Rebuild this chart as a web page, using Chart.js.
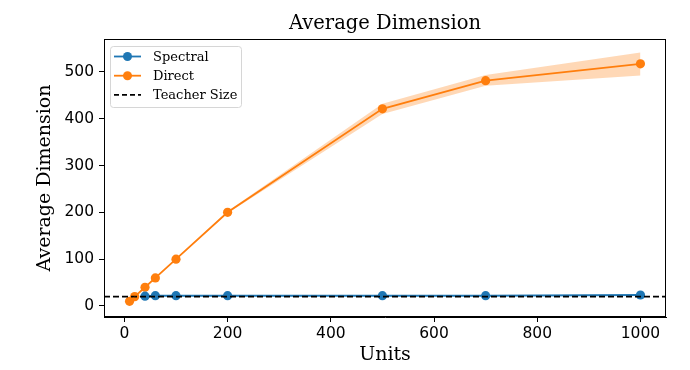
<!DOCTYPE html>
<html>
<head>
<meta charset="utf-8">
<script src="https://cdn.jsdelivr.net/npm/chart.js@4/dist/chart.umd.min.js"></script>
<style>
  html, body { margin: 0; padding: 0; background: #fff; }
  #wrap { width: 690px; height: 370px; }
</style>
</head>
<body>
<div id="wrap"><canvas id="chart" width="690" height="370"></canvas></div>
<script>
// data
const directUnits = [10, 20, 40, 60, 100, 200, 500, 700, 1000];
const directMean = [10, 20, 40, 60, 100, 200, 421, 481, 517];
const directUpper = [11, 21, 41, 61, 101, 202, 432, 493, 541];
const directLower = [9, 19, 39, 59, 99, 198, 410, 470, 492];

const spectralUnits = [40, 60, 100, 200, 500, 700, 1000];
const spectralMean = [21, 22, 22, 22, 22, 22, 23.5];

const teacherSize = 20;

const xRange = [-39.5, 1049.5];
const yRange = [-23.5, 570];
const xTicks = [0, 200, 400, 600, 800, 1000];
const yTicks = [0, 100, 200, 300, 400, 500];

const BLUE = "#1f77b4";
const ORANGE = "#ff7f0e";
const SERIF = "'DejaVu Serif', serif";
const SANS = "'DejaVu Sans', sans-serif";

const pts = (xs, ys) => xs.map((x, i) => ({ x: x, y: ys[i] }));

// frame around the plot + legend in the upper left corner
const framePlugin = {
  id: "frame",
  afterDraw(chart) {
    const ctx = chart.ctx;
    const a = chart.chartArea;
    ctx.save();
    ctx.strokeStyle = "#000";
    ctx.lineWidth = 1;
    ctx.strokeRect(a.left + 0.5, a.top + 0.5, a.right - a.left - 1, a.bottom - a.top - 1);

    // legend
    const bx = a.left + 6, by = a.top + 7, bw = 131, bh = 61;
    ctx.fillStyle = "rgba(255,255,255,0.8)";
    ctx.strokeStyle = "#d6d6d6";
    ctx.beginPath();
    ctx.roundRect(bx + 0.5, by + 0.5, bw, bh, 3);
    ctx.fill();
    ctx.stroke();

    const rows = [
      { label: "Spectral", color: BLUE, marker: true, dash: [] },
      { label: "Direct", color: ORANGE, marker: true, dash: [] },
      { label: "Teacher Size", color: "#000", marker: false, dash: [5, 3] }
    ];
    ctx.font = "13px " + SERIF;
    ctx.textBaseline = "middle";
    rows.forEach((r, i) => {
      const y = by + 10.5 + i * 19.2;
      ctx.strokeStyle = r.color;
      ctx.lineWidth = 1.8;
      ctx.setLineDash(r.dash);
      ctx.beginPath();
      ctx.moveTo(bx + 4, y);
      ctx.lineTo(bx + 31, y);
      ctx.stroke();
      ctx.setLineDash([]);
      if (r.marker) {
        ctx.fillStyle = r.color;
        ctx.beginPath();
        ctx.arc(bx + 17.5, y, 4.5, 0, Math.PI * 2);
        ctx.fill();
      }
      ctx.fillStyle = "#000";
      ctx.fillText(r.label, bx + 43, y + 1);
    });
    ctx.restore();
  }
};

new Chart(document.getElementById("chart"), {
  type: "line",
  data: {
    datasets: [
      {
        label: "Direct upper",
        data: pts(directUnits, directUpper),
        borderWidth: 0,
        pointRadius: 0,
        backgroundColor: "rgba(255,127,14,0.3)",
        fill: "+1"
      },
      {
        label: "Direct lower",
        data: pts(directUnits, directLower),
        borderWidth: 0,
        pointRadius: 0,
        fill: false
      },
      {
        label: "Teacher Size",
        data: [{ x: xRange[0], y: teacherSize }, { x: xRange[1], y: teacherSize }],
        borderColor: "#000",
        borderWidth: 1.6,
        borderDash: [6, 3],
        pointRadius: 0,
        fill: false
      },
      {
        label: "Spectral",
        data: pts(spectralUnits, spectralMean),
        borderColor: BLUE,
        backgroundColor: BLUE,
        borderWidth: 2,
        pointRadius: 4.6,
        pointBorderWidth: 0,
        fill: false
      },
      {
        label: "Direct",
        data: pts(directUnits, directMean),
        borderColor: ORANGE,
        backgroundColor: ORANGE,
        borderWidth: 1.8,
        pointRadius: 4.6,
        pointBorderWidth: 0,
        fill: false
      }
    ]
  },
  plugins: [framePlugin],
  options: {
    responsive: false,
    animation: false,
    layout: { padding: { top: 0, right: 24, bottom: 0, left: 0 } },
    plugins: {
      legend: { display: false },
      tooltip: { enabled: false },
      title: {
        display: true,
        text: "Average Dimension",
        color: "#000",
        fullSize: false,
        font: { family: SERIF, size: 19.5, weight: "normal" },
        padding: { top: 12, bottom: 3.6 }
      }
    },
    scales: {
      x: {
        type: "linear",
        min: xRange[0],
        max: xRange[1],
        afterBuildTicks: (s) => { s.ticks = xTicks.map(v => ({ value: v })); },
        afterFit: (s) => { s.height = 53; },
        grid: { drawOnChartArea: false, drawTicks: true, tickLength: 5, color: "#000" },
        border: { display: true, color: "#000" },
        ticks: {
          color: "#000", font: { family: SANS, size: 15.5 }, padding: 3, maxRotation: 0,
          callback: (v) => String(v)
        },
        title: {
          display: true,
          text: "Units",
          color: "#000",
          font: { family: SERIF, size: 19 },
          padding: { top: 0, bottom: 4 }
        }
      },
      y: {
        type: "linear",
        min: yRange[0],
        max: yRange[1],
        afterBuildTicks: (s) => { s.ticks = yTicks.map(v => ({ value: v })); },
        afterFit: (s) => { s.width = 104; },
        grid: { drawOnChartArea: false, drawTicks: true, tickLength: 5, color: "#000" },
        border: { display: true, color: "#000" },
        ticks: {
          color: "#000", font: { family: SANS, size: 15.5 }, padding: 5,
          callback: (v) => String(v)
        },
        title: {
          display: true,
          text: "Average Dimension",
          color: "#000",
          font: { family: SERIF, size: 19 },
          padding: { top: 34, bottom: 0 }
        }
      }
    }
  }
});
</script>
</body>
</html>
